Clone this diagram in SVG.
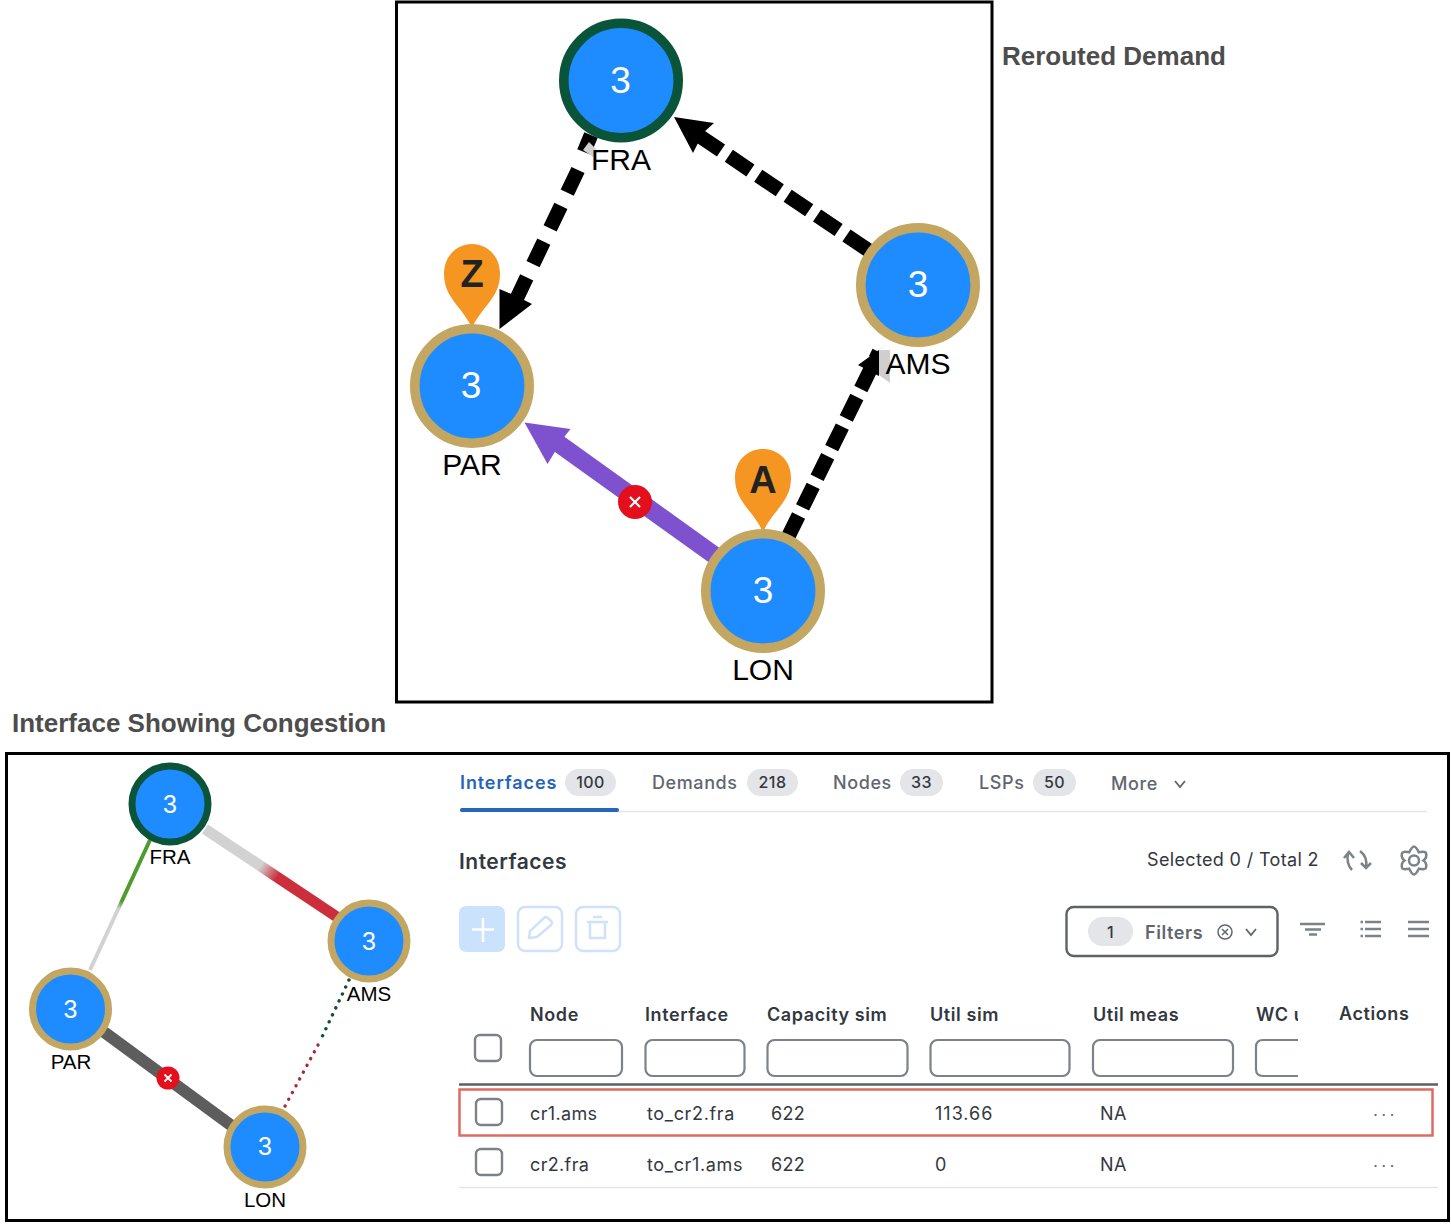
<svg xmlns="http://www.w3.org/2000/svg" width="1451" height="1225" viewBox="0 0 1451 1225">
<style>
text{font-family:"Liberation Sans",Arial,sans-serif}
.frame{fill:#fff;stroke:#000;stroke-width:3}
.title{font-weight:700;font-size:26px;fill:#4d4d4d}
.core{fill:#1e8cff}
.gold{stroke:#c3a661}
.green{stroke:#0a553a}
.lbl{font-size:30px;fill:#000;text-anchor:middle}
.num{font-size:37px;fill:#fff;text-anchor:middle}
.lbl2{font-size:20.5px;fill:#000;text-anchor:middle}
.num2{font-size:25px;fill:#fff;text-anchor:middle}
.ui{font-family:Inter,"Liberation Sans",sans-serif;font-size:18px;fill:#33383f;letter-spacing:.35px}
.ifc{letter-spacing:.65px}
.tab{font-family:Inter,"Liberation Sans",sans-serif;font-size:18px;font-weight:500;fill:#5f6670;letter-spacing:.6px}
.th{font-family:Inter,"Liberation Sans",sans-serif;font-size:18px;font-weight:600;fill:#33383f;letter-spacing:.6px}
.badge{fill:#e3e5e9}
.bt{font-family:Inter,"Liberation Sans",sans-serif;font-size:16px;font-weight:500;fill:#33383f;text-anchor:middle;letter-spacing:.4px}
.inp{fill:#fff;stroke:#7c8289;stroke-width:2.2}
.chk{fill:#fff;stroke:#7c8289;stroke-width:2.4}
.ghost{fill:#fff;stroke:#cfe2fb;stroke-width:2.5}
.ic{fill:none;stroke:#cfe2fb;stroke-width:2.5}
.tool{fill:none;stroke:#7c8289;stroke-width:2.5}
.dash{fill:none;stroke:#000;stroke-width:14.500}
.rule{stroke:#e3e5e8;stroke-width:1.5}
.dots{fill:none;stroke-width:3.4;stroke-linecap:round;stroke-dasharray:.1 7.6}
.more{font-family:"Liberation Sans",sans-serif;font-size:18px;fill:#5f656c;letter-spacing:3.2px}
</style>
<defs>
<linearGradient id="fa" gradientUnits="userSpaceOnUse" x1="205" y1="830" x2="335" y2="918"><stop offset=".42" stop-color="#d2d2d2"/><stop offset=".55" stop-color="#cc2e3c"/></linearGradient>
<linearGradient id="fp" gradientUnits="userSpaceOnUse" x1="150" y1="840" x2="90" y2="970"><stop offset=".47" stop-color="#4f9b2f"/><stop offset=".53" stop-color="#d2d2d2"/></linearGradient>
</defs>
<rect class="frame" x="396.500" y="2" width="595.500" height="700"/>
<rect class="frame" x="6.500" y="753.500" width="1442" height="467"/>
<text class="title" x="1002" y="65">Rerouted Demand</text>
<text class="title" x="12" y="732">Interface Showing Congestion</text>

<g id="connectors">
<path class="dash" stroke-dasharray="26 9.500" d="M868 250L698 135"/>
<path d="M674 117L714 123L703 133L693 153Z" fill="#000"/>
<path class="dash" d="M591 135L584 152"/>
<path class="dash" stroke-dasharray="25 14.700" d="M578 170L515 302"/>
<path d="M499.500 329L532 304L516 296L499.500 289Z" fill="#000"/>
<path class="dash" stroke-dasharray="24 9" d="M788 537L879 352"/>
<path d="M890 342L858 365L875 374L879 376V350Z" fill="#000"/>
<path d="M890 350V383L879 375V350Z" fill="#cfcfcf"/>
<path d="M583 150L589 142L597 150L593 157Z" fill="#d0d0d0"/>
<path d="M714 555L555 441" fill="none" stroke="#7e52cf" stroke-width="18"/>
<path d="M524.500 422.500L570.500 429L561 441L553 455L547.500 464Z" fill="#7e52cf"/>
<path d="M205 829L337 917" fill="none" stroke="url(#fa)" stroke-width="11"/>
<path d="M150 840L90 970" fill="none" stroke="url(#fp)" stroke-width="4"/>
<path d="M104 1032L232 1126" fill="none" stroke="#5d5d5d" stroke-width="12"/>
<path class="dots" stroke="#0f4f3d" d="M349 980L322 1037"/>
<path class="dots" stroke="#a02c3a" d="M318 1045L284 1108"/>
</g>

<g id="top-fra"><circle class="core green" cx="621" cy="80.500" r="57.200" stroke-width="9.600"/><text class="num" x="620.500" y="93">3</text><text class="lbl" x="621" y="170">FRA</text></g>
<g id="top-ams"><circle class="core gold" cx="918" cy="285" r="57.200" stroke-width="9.600"/><text class="num" x="918" y="297">3</text><text class="lbl" x="918" y="374">AMS</text></g>
<g id="top-par"><path d="M472 328C462 306 444 298 444 274C444 255 458 244 472 244C486 244 500 255 500 274C500 298 482 306 472 328Z" fill="#f59522"/><text x="472" y="287" font-size="38" font-weight="700" text-anchor="middle" fill="#222">Z</text><circle class="core gold" cx="472" cy="386" r="57.200" stroke-width="9.600"/><text class="num" x="471" y="398">3</text><text class="lbl" x="472" y="475">PAR</text></g>
<g id="top-lon"><path d="M763 532C753 510 735 502 735 478C735 459 749 449 763 449C777 449 791 459 791 478C791 502 773 510 763 532Z" fill="#f59522"/><text x="763" y="493" font-size="38" font-weight="700" text-anchor="middle" fill="#222">A</text><circle class="core gold" cx="763" cy="591" r="57.200" stroke-width="9.600"/><text class="num" x="763" y="603">3</text><text class="lbl" x="763" y="680">LON</text></g>
<g id="top-fail"><circle cx="635" cy="502" r="17" fill="#e30f1c"/><path d="M630 497L640 507M640 497L630 507" stroke="#fff" stroke-width="2.200"/></g>

<g id="bot-fra"><circle class="core green" cx="170" cy="804" r="38" stroke-width="7"/><text class="num2" x="170" y="813">3</text><text class="lbl2" x="170" y="864">FRA</text></g>
<g id="bot-ams"><circle class="core gold" cx="369" cy="941" r="38" stroke-width="7"/><text class="num2" x="369" y="950">3</text><text class="lbl2" x="369" y="1001">AMS</text></g>
<g id="bot-par"><circle class="core gold" cx="70.500" cy="1009" r="38" stroke-width="7"/><text class="num2" x="70.500" y="1018">3</text><text class="lbl2" x="71" y="1069">PAR</text></g>
<g id="bot-lon"><circle class="core gold" cx="265" cy="1147" r="38" stroke-width="7"/><text class="num2" x="265" y="1155">3</text><text class="lbl2" x="265" y="1207">LON</text></g>
<g id="bot-fail"><circle cx="168" cy="1078" r="11.500" fill="#e30f1c"/><path d="M164.500 1074.500L171.500 1081.500M171.500 1074.500L164.500 1081.500" stroke="#fff" stroke-width="1.800"/></g>

<g id="tabs">
<text class="tab" x="460" y="789" style="fill:#2566b8;font-weight:600;letter-spacing:.9px">Interfaces</text><rect class="badge" x="565" y="769" width="51" height="27" rx="13.500"/><text class="bt" x="590.500" y="788">100</text>
<text class="tab" x="652" y="789">Demands</text><rect class="badge" x="747" y="769" width="51" height="27" rx="13.500"/><text class="bt" x="772.500" y="788">218</text>
<text class="tab" x="833" y="789">Nodes</text><rect class="badge" x="900" y="769" width="43" height="27" rx="13.500"/><text class="bt" x="921.500" y="788">33</text>
<text class="tab" x="979" y="789">LSPs</text><rect class="badge" x="1033" y="769" width="43" height="27" rx="13.500"/><text class="bt" x="1054.500" y="788">50</text>
<text class="tab" x="1111" y="790">More</text><path d="M1175 781L1180 787L1185 781" fill="none" stroke="#5f6670" stroke-width="1.800"/>
<path class="rule" d="M460 811.500H1427"/><rect x="460" y="808" width="159" height="4" rx="2" fill="#2566b8"/>
</g>

<g id="toolbar">
<text x="459" y="869" style="font-family:Inter,'Liberation Sans',sans-serif;font-size:21px;font-weight:600;fill:#33383f;letter-spacing:.5px">Interfaces</text>
<text class="ui" x="1147" y="866">Selected 0 / Total 2</text>
<path class="tool" d="M1352 870Q1346 864 1348 853M1344 858L1349 852L1354 858"/>
<path class="tool" d="M1360 851Q1368 857 1366 868M1361 863L1366 868L1371 863"/>
<path class="tool" d="M1418.750 852.300Q1426.100 851 1426.100 853.500Q1427 858 1423.500 860.500Q1427 863 1426.100 867.500Q1426 870 1418.750 868.700Q1416 874.500 1414 874.500Q1412 874.500 1409.250 868.700Q1402 870 1401.900 867.500Q1401 863 1404.500 860.500Q1401 858 1401.900 853.500Q1402 851 1409.250 852.300Q1412 846.500 1414 846.500Q1416 846.500 1418.750 852.300Z"/><circle class="tool" cx="1414" cy="860.500" r="5"/>
<rect x="459" y="906" width="46" height="46" rx="7" fill="#cbe2fd"/><path d="M483 918V942M472 929.500H494" stroke="#fff" stroke-width="2.500"/>
<rect class="ghost" x="518" y="907" width="44" height="44" rx="7"/><path class="ic" d="M529 938L530 931L544 918Q546 916 548 918L551 921Q553 923 551 925L537 937Z"/>
<rect class="ghost" x="576" y="907" width="44" height="44" rx="7"/><path class="ic" d="M587 922H608M590 922V938H605V922M593 917H602"/>
<rect x="1066.500" y="907" width="211" height="49" rx="7" fill="#fff" stroke="#5d6268" stroke-width="2.400"/>
<rect class="badge" x="1088" y="917" width="45" height="29" rx="14.500"/><text class="bt" x="1110.500" y="938">1</text>
<text class="tab" x="1145" y="939" style="font-weight:600">Filters</text><circle cx="1225" cy="932" r="7" fill="none" stroke="#5f6670" stroke-width="1.500"/><path d="M1222 929L1228 935M1228 929L1222 935" stroke="#5f6670" stroke-width="1.500"/><path d="M1246 929L1251 935L1256 929" fill="none" stroke="#5f6670" stroke-width="1.800"/>
<path class="tool" d="M1300 924H1325M1305 929.500H1321M1309 934.500H1317"/>
<path class="tool" d="M1365 922H1381M1365 929H1381M1365 936H1381"/><path class="tool" d="M1360.500 922H1363M1360.500 929H1363M1360.500 936H1363"/>
<path class="tool" d="M1408 922H1429M1408 929H1429M1408 936H1429"/>
</g>

<g id="table">
<text class="th" x="530" y="1021">Node</text><text class="th" x="645" y="1021">Interface</text><text class="th" x="767" y="1021">Capacity sim</text><text class="th" x="930" y="1021">Util sim</text><text class="th" x="1093" y="1021">Util meas</text><text class="th" x="1256" y="1021">WC u</text><rect x="1298" y="1000" width="30" height="30" fill="#fff"/><text class="th" x="1339" y="1020">Actions</text>
<rect class="chk" x="475" y="1035" width="26" height="26" rx="5"/>
<rect class="inp" x="530" y="1040" width="92" height="36" rx="7"/><rect class="inp" x="645.500" y="1040" width="99" height="36" rx="7"/><rect class="inp" x="767.500" y="1040" width="140" height="36" rx="7"/><rect class="inp" x="930.500" y="1040" width="139" height="36" rx="7"/><rect class="inp" x="1093" y="1040" width="140" height="36" rx="7"/>
<path class="inp" style="fill:none" d="M1298 1040H1263Q1256 1040 1256 1047V1069Q1256 1076 1263 1076H1298"/>
<path d="M459 1084.500H1438" stroke="#5c6065" stroke-width="2.500"/>
<rect x="459.500" y="1089.500" width="973" height="46" fill="#fff" stroke="#dd6b62" stroke-width="2.500"/>
<rect class="chk" x="476" y="1099" width="26" height="26" rx="5"/>
<text class="ui" x="530" y="1120">cr1.ams</text><text class="ui ifc" x="647" y="1120">to_cr2.fra</text><text class="ui" x="771" y="1120">622</text><text class="ui" x="935" y="1120" style="letter-spacing:1px">113.66</text><text class="ui" x="1100" y="1120">NA</text>
<text class="more" x="1373" y="1116">...</text>
<rect class="chk" x="476" y="1149" width="26" height="26" rx="5"/>
<text class="ui" x="530" y="1171">cr2.fra</text><text class="ui ifc" x="647" y="1171">to_cr1.ams</text><text class="ui" x="771" y="1171">622</text><text class="ui" x="935" y="1171">0</text><text class="ui" x="1100" y="1171">NA</text>
<text class="more" x="1373" y="1167">...</text>
<path class="rule" d="M459 1187.500H1438"/>
</g>
</svg>
